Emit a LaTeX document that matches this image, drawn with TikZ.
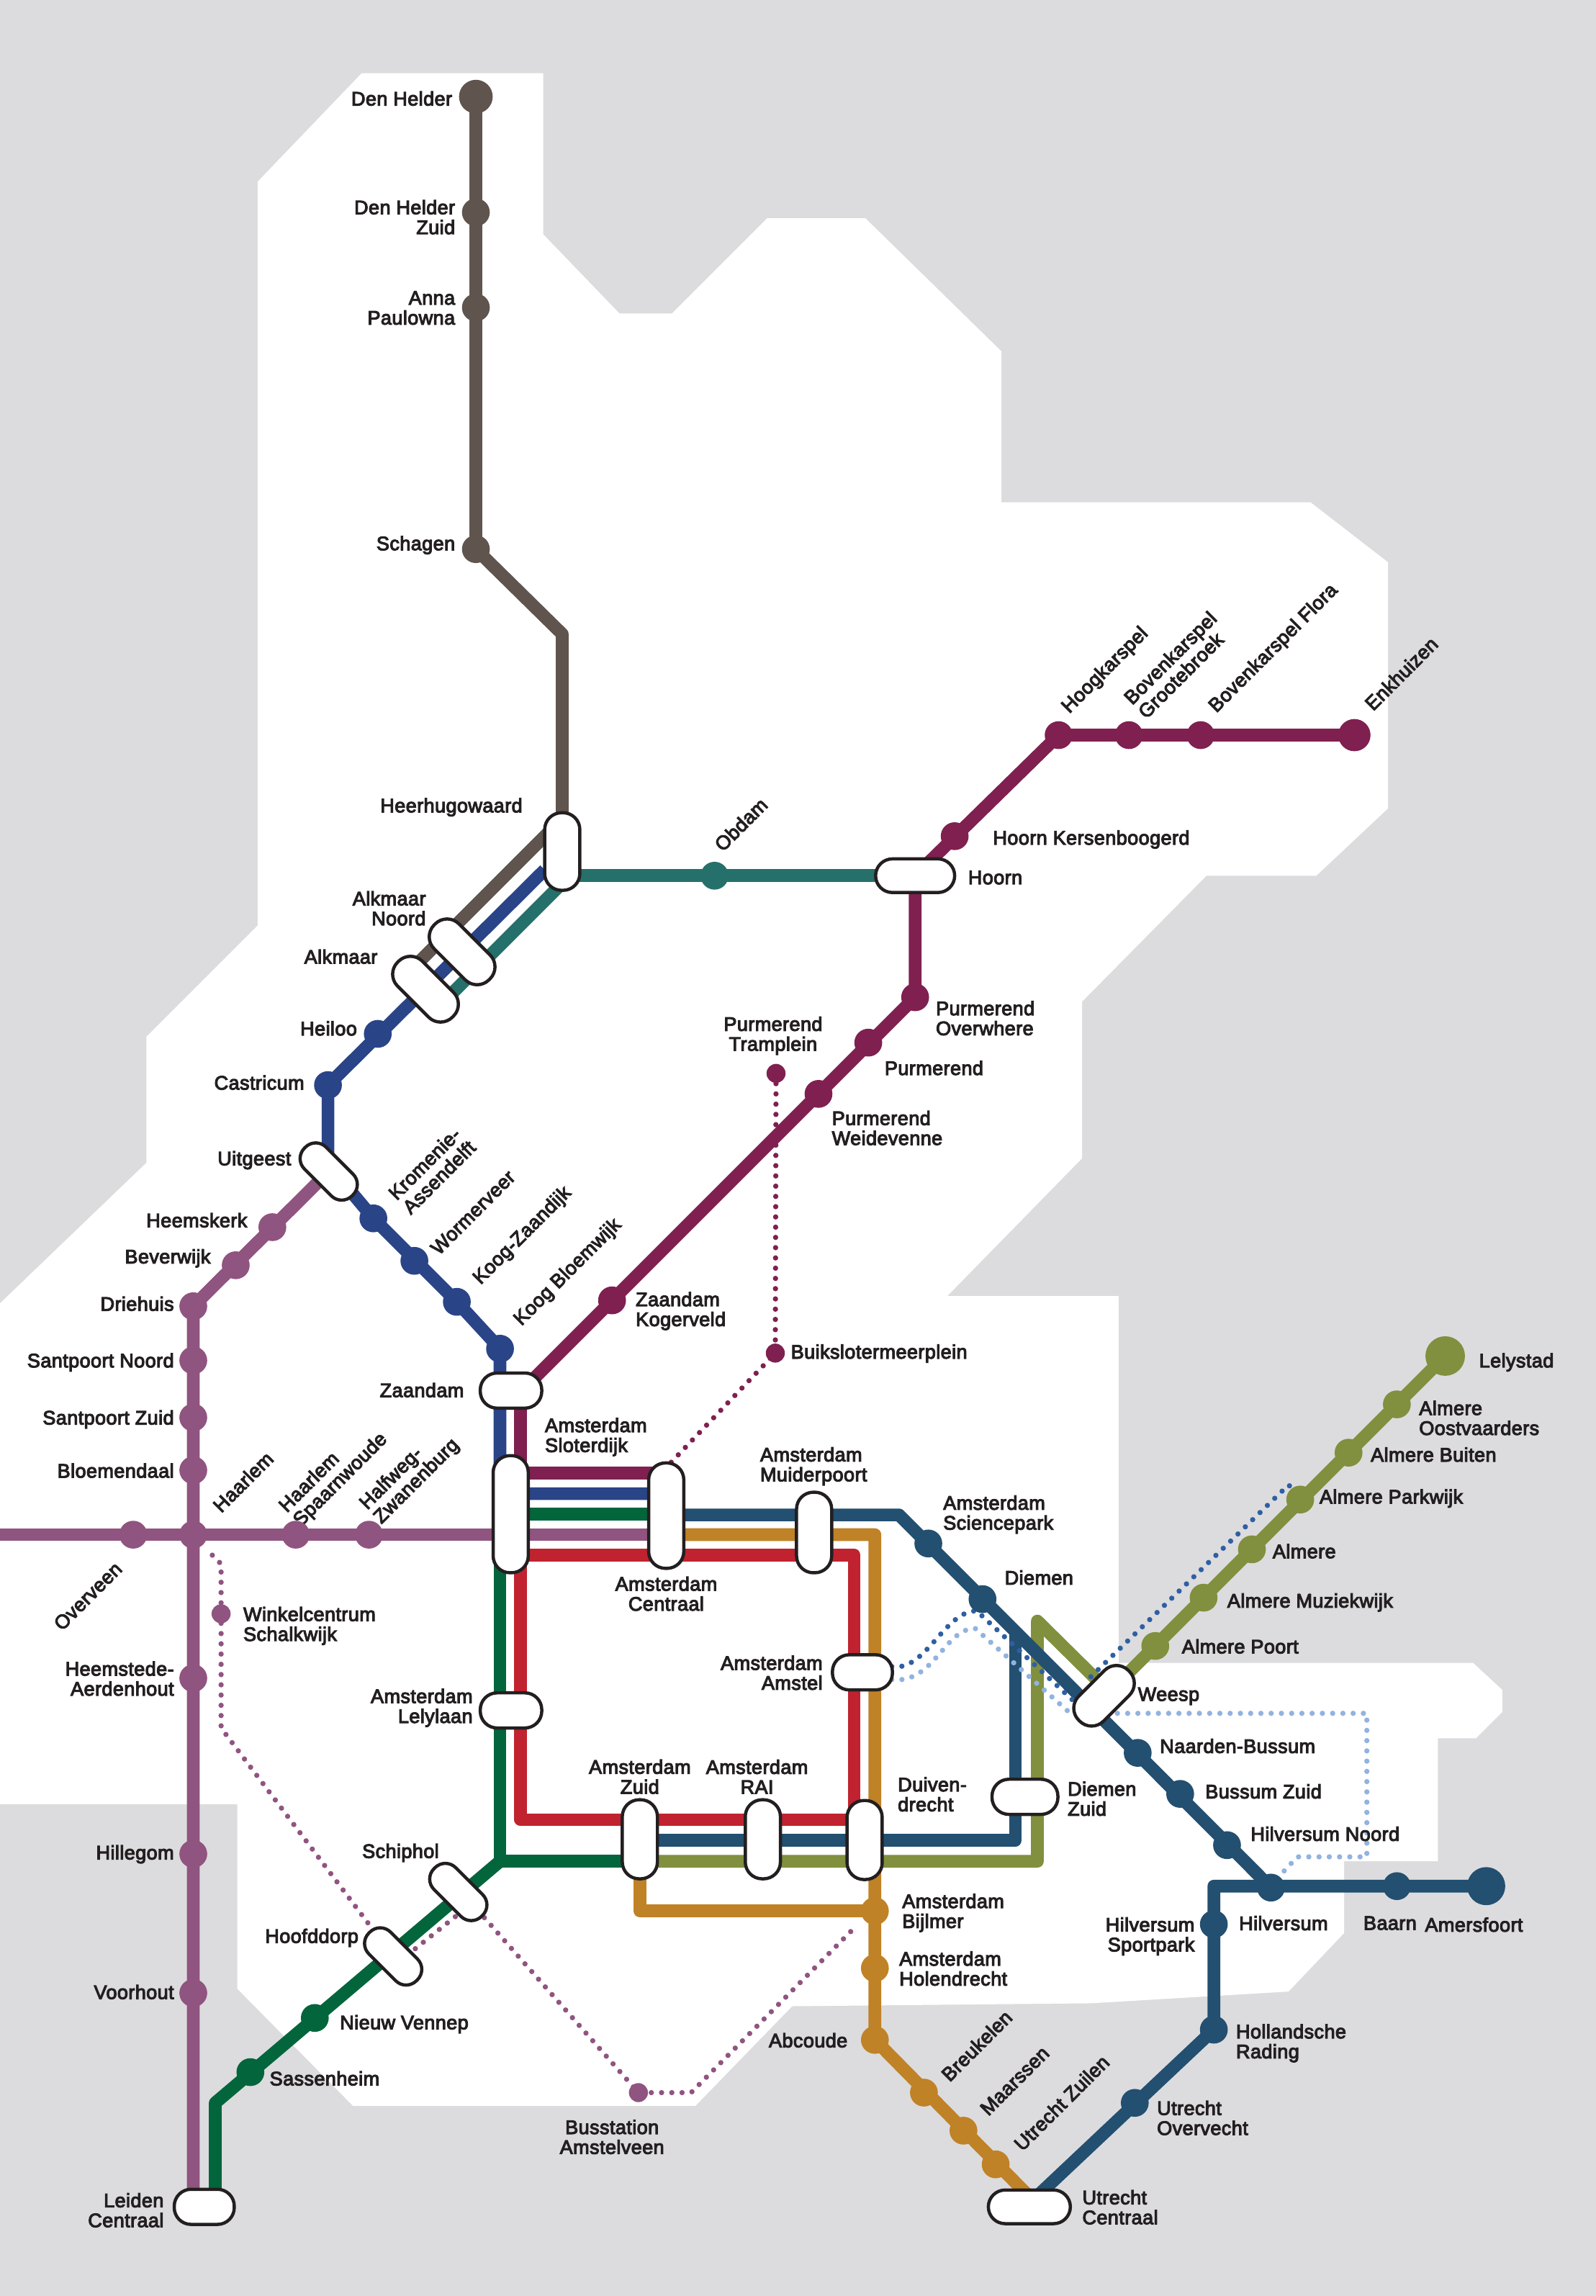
\documentclass[tikz,border=0pt]{standalone}
\usepackage{fontspec}
\setmainfont{Liberation Sans}[FakeBold=4,LetterSpace=1.5]
\definecolor{land}{HTML}{DCDCDE}
\definecolor{ink}{HTML}{231F20}
\definecolor{brownl}{HTML}{5F544E}
\definecolor{teall}{HTML}{25706A}
\definecolor{bluel}{HTML}{2A4488}
\definecolor{winel}{HTML}{7F2050}
\definecolor{violetl}{HTML}{905480}
\definecolor{greenl}{HTML}{03653C}
\definecolor{redl}{HTML}{C0232F}
\definecolor{ochrel}{HTML}{C08226}
\definecolor{petroll}{HTML}{234F70}
\definecolor{olivel}{HTML}{80903E}
\definecolor{dotblue}{HTML}{2F5FA3}
\definecolor{dotlight}{HTML}{92B3DF}
\pgfdeclarelayer{fg}
\pgfsetlayers{main,fg}
\tikzset{
 railline/.style={line width=8.7pt,line join=round,draw=#1},
 dotline/.style={line width=3.6pt,line cap=round,dash pattern=on 0pt off 7pt,draw=#1},
 stn/.style={circle,fill=#1,inner sep=0pt,minimum size=19pt},
 big/.style={circle,fill=#1,inner sep=0pt,minimum size=25pt},
 tiny/.style={circle,fill=#1,inner sep=0pt,minimum size=13pt},
 pillb/.style={draw=ink,fill=white,line width=2.2pt,inner sep=0pt,rounded corners=11.5pt},
 le/.style={anchor=west,align=left,text=ink,inner sep=0pt,font=\lblfont,yshift=-0.3pt},
 ri/.style={anchor=east,align=right,text=ink,inner sep=0pt,font=\lblfont,yshift=-0.3pt},
 ce/.style={anchor=center,align=center,text=ink,inner sep=0pt,font=\lblfont,yshift=-0.3pt},
 ro/.style={anchor=center,align=left,text=ink,inner sep=0pt,font=\lblfont,rotate=45},
}
\newcommand{\lblfont}{\fontsize{13.3}{13.6}\selectfont}
\begin{document}
\begin{tikzpicture}[x=1pt,y=-1pt]
\useasboundingbox (0,0) rectangle (1090,1567.9);
\fill[land] (0,0) rectangle (1090,1567.9);
\fill[white] (247,50) -- (371,50) -- (371,160) -- (423,214) -- (459,214) -- (524,149) -- (591,149) -- (684,240) -- (684,343) -- (895,343) -- (948,384) -- (948,552) -- (899,598) -- (824,598) -- (739,684) -- (739,791) -- (647,885) -- (764,885) -- (764,1135.5) -- (1006,1135.5) -- (1026,1154) -- (1026,1169) -- (1008,1187) -- (982,1187) -- (982,1271) -- (918,1271) -- (918,1320) -- (880,1360) -- (745,1368) -- (541,1370) -- (475,1438) -- (241,1438) -- (162,1358) -- (162,1232) -- (0,1232) -- (0,890) -- (100,794) -- (100,708) -- (176,632) -- (176,124) -- cycle;

\begin{pgfonlayer}{fg}
% interchange pills
\node[pillb,minimum width=24pt,minimum height=53pt] (heer) at (384,581.5) {};
\node[pillb,minimum width=53pt,minimum height=24pt,rotate=-45] (alkn) at (315.6,650) {};
\node[pillb,minimum width=53pt,minimum height=24pt,rotate=-45] (alk) at (290.6,675.5) {};
\node[pillb,minimum width=46pt,minimum height=21pt,rotate=-45,rounded corners=10pt] (uit) at (224.5,800) {};
\node[pillb,minimum width=54pt,minimum height=23pt] (hoorn) at (625,598) {};
\node[pillb,minimum width=42pt,minimum height=24pt] (zaan) at (349,949.6) {};
\node[pillb,minimum width=24pt,minimum height=80pt] (slot) at (348.8,1034) {};
\node[pillb,minimum width=24pt,minimum height=72pt] (cs) at (455,1035) {};
\node[pillb,minimum width=24pt,minimum height=55pt] (muid) at (556,1046.5) {};
\node[pillb,minimum width=42pt,minimum height=24pt] (lely) at (349,1168) {};
\node[pillb,minimum width=41pt,minimum height=24pt] (amst) at (589,1142) {};
\node[pillb,minimum width=24pt,minimum height=54pt] (zuid) at (437,1256) {};
\node[pillb,minimum width=24pt,minimum height=54pt] (rai) at (521,1256) {};
\node[pillb,minimum width=24pt,minimum height=54pt] (duiv) at (590.5,1256.5) {};
\node[pillb,minimum width=45pt,minimum height=24pt] (diez) at (700,1227) {};
\node[pillb,minimum width=48pt,minimum height=24pt,rotate=45] (wee) at (754,1158) {};
\node[pillb,minimum width=46pt,minimum height=21pt,rotate=-45,rounded corners=10pt] (schi) at (313,1292) {};
\node[pillb,minimum width=46pt,minimum height=21pt,rotate=-45,rounded corners=10pt] (hoof) at (268.5,1336) {};
\node[pillb,minimum width=41pt,minimum height=24pt] (leid) at (139.5,1507) {};
\node[pillb,minimum width=56pt,minimum height=23pt] (utr) at (703,1507) {};
% stations
\node[big=brownl,minimum size=23pt] (denh) at (325,66) {};
\node[stn=brownl] (denz) at (325,145) {};
\node[stn=brownl] (anna) at (325,210) {};
\node[stn=brownl] (schag) at (325,375) {};
\node[stn=teall] (obd) at (488,598) {};
\node[stn=winel] (kers) at (652,571) {};
\node[stn=winel] (hoog) at (723,502) {};
\node[stn=winel] (groo) at (771,502) {};
\node[stn=winel] (flor) at (820,502) {};
\node[big=winel,minimum size=22pt] (enk) at (925,502) {};
\node[stn=winel] (over) at (625,681) {};
\node[stn=winel] (purm) at (593,712) {};
\node[stn=winel] (weid) at (559,747) {};
\node[stn=winel] (koge) at (418,888) {};
\node[tiny=winel] (tram) at (530,733) {};
\node[tiny=winel] (buik) at (529.5,924) {};
\node[stn=bluel] (heil) at (258,706) {};
\node[stn=bluel] (cast) at (224,741) {};
\node[stn=bluel] (krom) at (255,832) {};
\node[stn=bluel] (worm) at (283,861) {};
\node[stn=bluel] (koog) at (312,889) {};
\node[stn=bluel] (bloe) at (341.5,921) {};
\node[stn=violetl] (heem) at (186,838) {};
\node[stn=violetl] (bev) at (161,864) {};
\node[stn=violetl] (drie) at (132,892) {};
\node[stn=violetl] (sano) at (132,929) {};
\node[stn=violetl] (sazu) at (132,968) {};
\node[stn=violetl] (blmd) at (132,1004) {};
\node[stn=violetl] (haar) at (132,1048) {};
\node[stn=violetl] (aerd) at (132,1146) {};
\node[stn=violetl] (hill) at (132,1266) {};
\node[stn=violetl] (voor) at (132,1361) {};
\node[stn=violetl] (ovrv) at (91,1048) {};
\node[stn=violetl] (spaa) at (202,1048) {};
\node[stn=violetl] (half) at (252,1048) {};
\node[tiny=violetl] (wink) at (151,1102) {};
\node[tiny=violetl] (buss) at (436,1429) {};
\node[stn=greenl] (sass) at (171,1415) {};
\node[stn=greenl] (nieu) at (215,1378) {};
\node[stn=petroll] (scie) at (634,1054) {};
\node[stn=petroll] (diem) at (671,1092) {};
\node[stn=petroll] (naar) at (777,1197) {};
\node[stn=petroll] (buzu) at (806,1225) {};
\node[stn=petroll] (hino) at (838,1260) {};
\node[stn=petroll] (hilv) at (868,1289) {};
\node[stn=petroll] (baar) at (954,1288) {};
\node[big=petroll,minimum size=26pt] (amer) at (1015,1288) {};
\node[stn=petroll] (spor) at (829,1314) {};
\node[stn=petroll] (radi) at (829,1386) {};
\node[stn=petroll] (ovec) at (775,1436) {};
\node[stn=ochrel] (bijl) at (597.5,1305) {};
\node[stn=ochrel] (hole) at (597.5,1344) {};
\node[stn=ochrel] (abco) at (597.5,1393) {};
\node[stn=ochrel] (breu) at (631,1429) {};
\node[stn=ochrel] (maar) at (658,1455) {};
\node[stn=ochrel] (zuil) at (680,1478) {};
\node[big=olivel,minimum size=27pt] (lelys) at (987,926) {};
\node[stn=olivel] (oost) at (954,959) {};
\node[stn=olivel] (buit) at (921,992) {};
\node[stn=olivel] (park) at (888,1024) {};
\node[stn=olivel] (alme) at (855,1058) {};
\node[stn=olivel] (muzi) at (822,1091) {};
\node[stn=olivel] (poor) at (789,1124) {};
\end{pgfonlayer}

% way points
\coordinate (br1) at (384,433);
\coordinate (br2) at (378,565);
\coordinate (br3) at (280,663);
\coordinate (te1) at (387,600);
\coordinate (te2) at (301,686);
\coordinate (te3) at (384,598);
\coordinate (bl1) at (372,594);
\coordinate (bl2) at (224,795);
\coordinate (bl3) at (341.5,1020);
\coordinate (bl4) at (455,1020);
\coordinate (wi1) at (349,957);
\coordinate (wi2) at (355.5,950);
\coordinate (wi3) at (355.5,1006);
\coordinate (wi4) at (455,1006);
\coordinate (gr1) at (455,1034);
\coordinate (gr2) at (341.5,1034);
\coordinate (gr3) at (341.5,1271);
\coordinate (gr4) at (437,1271);
\coordinate (gr5) at (147,1436);
\coordinate (gr6) at (147,1500);
\coordinate (vi0) at (0,1048);
\coordinate (vi1) at (455,1048);
\coordinate (vi2) at (132,1500);
\coordinate (re1) at (355.5,1062);
\coordinate (re2) at (583.4,1062);
\coordinate (re3) at (583.4,1242.6);
\coordinate (re4) at (355.5,1242.6);
\coordinate (oc1) at (455,1048);
\coordinate (oc2) at (597.5,1048);
\coordinate (oc3) at (703,1500);
\coordinate (oc4) at (437,1256);
\coordinate (oc5) at (437,1305);
\coordinate (pe1) at (455,1034.5);
\coordinate (pe2) at (614,1034.5);
\coordinate (pe3) at (437,1256.6);
\coordinate (pe4) at (693.5,1256.6);
\coordinate (pe5) at (693.5,1114);
\coordinate (pe6) at (829,1288);
\coordinate (pe7) at (708,1500);
\coordinate (ol1) at (437,1271);
\coordinate (ol2) at (708.5,1271);
\coordinate (ol3) at (708.5,1107);
\coordinate (ol4) at (748,1146);
\coordinate (ol5) at (764,1149);

% solid lines
\draw[railline=brownl] (denh.center) -- (schag.center) -- (br1) -- (heer.center);
\draw[railline=brownl] (br2) -- (br3);
\draw[railline=teall] (te1) -- (te2);
\draw[railline=teall] (te3) -- (hoorn.center);
\draw[railline=violetl] (vi0) -- (vi1);
\draw[railline=violetl] (uit.center) -- (drie.center) -- (vi2);
\draw[railline=winel] (enk.center) -- (hoog.center) -- (hoorn.center) -- (over.center) -- (wi1);
\draw[railline=winel] (wi2) -- (wi3) -- (wi4);
\draw[railline=bluel] (bl1) -- (cast.center) -- (bl2) -- (krom.center) -- (koog.center) -- (bloe.center) -- (bl3) -- (bl4);
\draw[railline=greenl] (gr1) -- (gr2) -- (gr3) -- (gr4);
\draw[railline=greenl] (gr3) -- (gr5) -- (gr6);
\draw[railline=redl] (re1) -- (re2) -- (re3) -- (re4) -- cycle;
\draw[railline=ochrel] (oc1) -- (oc2) -- (abco.center) -- (oc3);
\draw[railline=ochrel] (oc4) -- (oc5) -- (bijl.center);
\draw[railline=olivel] (lelys.center) -- (ol5);
\draw[railline=olivel] (ol1) -- (ol2) -- (ol3) -- (ol4);
\draw[railline=petroll] (pe1) -- (pe2) -- (hilv.center);
\draw[railline=petroll] (pe3) -- (pe4) -- (pe5);
\draw[railline=petroll] (amer.center) -- (pe6) -- (radi.center) -- (pe7);

% dotted lines
\coordinate (wd1) at (457,1000);
\draw[dotline=winel] (tram.center) -- (buik.center) -- (wd1);
\coordinate (vd1) at (145,1062);
\coordinate (vd2) at (151,1068);
\coordinate (vd3) at (151,1180);
\coordinate (vd4) at (272,1340);
\coordinate (vd5) at (312,1308);
\coordinate (vd6) at (318,1295);
\coordinate (vd7) at (472,1429);
\coordinate (vd8) at (582,1318);
\draw[dotline=violetl] (vd1) -- (vd2) -- (vd3) -- (hoof.center) -- (vd4) -- (vd5) -- (vd6) -- (buss.center) -- (vd7) -- (vd8);
\coordinate (db0) at (609,1138);
\coordinate (db1) at (667,1100);
\coordinate (db2) at (738,1166);
\coordinate (db3) at (880,1014);
\coordinate (db4) at (884,1018);
\coordinate (db5) at (745,1145);
\draw[dotline=dotblue] (db0) .. controls (632,1142) and (645,1100) .. (db1) -- (db2);
\draw[dotline=dotblue] (db5) -- (db3) -- (db4);
\coordinate (dl0) at (609,1147);
\coordinate (dl1) at (666,1112);
\coordinate (dl2) at (731,1170);
\coordinate (dl3) at (933.5,1170);
\coordinate (dl4) at (933.5,1268);
\coordinate (dl5) at (886,1268);
\coordinate (dl6) at (872,1283);
\draw[dotline=dotlight] (dl0) .. controls (638,1150) and (645,1112) .. (dl1) -- (dl2) -- (dl3) -- (dl4) -- (dl5) -- (dl6);

% labels
\node[ri] (tdenh) at (309,67) {Den Helder};
\node[ri] (tdenz) at (311,148) {Den Helder\\Zuid};
\node[ri] (tanna) at (311,210) {Anna\\Paulowna};
\node[ri] (tschag) at (311,372) {Schagen};
\node[ri] (theer) at (357,551) {Heerhugowaard};
\node[ro] (tobd) at (506,563) {Obdam};
\node[ri] (talkn) at (291,620) {Alkmaar\\Noord};
\node[ri] (talk) at (258,653) {Alkmaar};
\node[ri] (theil) at (244,702) {Heiloo};
\node[ri] (tcast) at (208,739) {Castricum};
\node[ri] (tuit) at (199,792) {Uitgeest};
\node[ro] (tkrom) at (295,799) {Kromenie-\\Assendelft};
\node[ro] (tworm) at (323,828) {Wormerveer};
\node[ro] (tkoog) at (357,844) {Koog-Zaandijk};
\node[ro] (tbloe) at (388,869) {Koog Bloemwijk};
\node[ri] (theem) at (169,833) {Heemskerk};
\node[ri] (tbev) at (144,859) {Beverwijk};
\node[ri] (tdrie) at (119,890) {Driehuis};
\node[ri] (tsano) at (119,930) {Santpoort Noord};
\node[ri] (tsazu) at (119,969) {Santpoort Zuid};
\node[ri] (tblmd) at (119,1004) {Bloemendaal};
\node[ri] (tzaan) at (317,949) {Zaandam};
\node[ro] (thaar) at (166,1012) {Haarlem};
\node[ro] (tspaa) at (228,1006) {Haarlem\\Spaarnwoude};
\node[ro] (thalf) at (280,1007) {Halfweg-\\Zwanenburg};
\node[ro] (tovrv) at (60,1090) {Overveen};
\node[le] (twink) at (166,1110) {Winkelcentrum\\Schalkwijk};
\node[ri] (taerd) at (119,1146) {Heemstede-\\Aerdenhout};
\node[le] (tslot) at (372,981) {Amsterdam\\Sloterdijk};
\node[le] (tmuid) at (519,1001) {Amsterdam\\Muiderpoort};
\node[le] (tscie) at (644,1034) {Amsterdam\\Sciencepark};
\node[le] (tdiem) at (686,1077) {Diemen};
\node[ce] (tcs) at (455,1088) {Amsterdam\\Centraal};
\node[ri] (tamst) at (562,1142) {Amsterdam\\Amstel};
\node[ri] (tlely) at (323,1166) {Amsterdam\\Lelylaan};
\node[ce] (tzuid) at (437,1213) {Amsterdam\\Zuid};
\node[ce] (trai) at (517,1213) {Amsterdam\\RAI};
\node[le] (tduiv) at (613,1225) {Duiven-\\drecht};
\node[le] (tdiez) at (729,1228) {Diemen\\Zuid};
\node[le] (twee) at (777,1158) {Weesp};
\node[le] (tnaar) at (792,1192) {Naarden-Bussum};
\node[le] (tbuzu) at (823,1223) {Bussum Zuid};
\node[le] (thino) at (854,1252) {Hilversum Noord};
\node[le] (thilv) at (846,1313) {Hilversum};
\node[le] (tbaar) at (931,1313) {Baarn};
\node[le] (tamer) at (973,1314) {Amersfoort};
\node[ri] (tspor) at (816,1322) {Hilversum\\Sportpark};
\node[le] (tradi) at (844,1395) {Hollandsche\\Rading};
\node[le] (tovec) at (790,1446) {Utrecht\\Overvecht};
\node[le] (tutr) at (739,1507) {Utrecht\\Centraal};
\node[ro] (tzuil) at (725,1436) {Utrecht Zuilen};
\node[ro] (tmaar) at (693,1421) {Maarssen};
\node[ro] (tbreu) at (667,1397) {Breukelen};
\node[ri] (tabco) at (579,1393) {Abcoude};
\node[le] (tbijl) at (616,1306) {Amsterdam\\Bijlmer};
\node[le] (thole) at (614,1344) {Amsterdam\\Holendrecht};
\node[ri] (tschi) at (300,1265) {Schiphol};
\node[ri] (thoof) at (245,1323) {Hoofddorp};
\node[le] (tnieu) at (232,1382) {Nieuw Vennep};
\node[le] (tsass) at (184,1419) {Sassenheim};
\node[ri] (tleid) at (112,1509) {Leiden\\Centraal};
\node[ri] (thill) at (119,1266) {Hillegom};
\node[ri] (tvoor) at (119,1360) {Voorhout};
\node[ce] (tbuss) at (418,1459) {Busstation\\Amstelveen};
\node[le] (tbuik) at (540,924) {Buikslotermeerplein};
\node[ce] (ttram) at (528,707) {Purmerend\\Tramplein};
\node[le] (tover) at (639,695) {Purmerend\\Overwhere};
\node[le] (tpurm) at (604,729) {Purmerend};
\node[le] (tweid) at (568,770) {Purmerend\\Weidevenne};
\node[le] (tkoge) at (434,895) {Zaandam\\Kogerveld};
\node[le] (tkers) at (678,573) {Hoorn Kersenboogerd};
\node[le] (thoorn) at (661,599) {Hoorn};
\node[ro] (thoog) at (755,458) {Hoogkarspel};
\node[ro] (tgroo) at (804,454) {Bovenkarspel\\Grootebroek};
\node[ro] (tflor) at (870,443) {Bovenkarspel Flora};
\node[ro] (tenk) at (957,460) {Enkhuizen};
\node[le] (tlelys) at (1010,930) {Lelystad};
\node[le] (toost) at (969,968) {Almere\\Oostvaarders};
\node[le] (tbuit) at (936,993) {Almere Buiten};
\node[le] (tpark) at (901,1023) {Almere Parkwijk};
\node[le] (talme) at (869,1059) {Almere};
\node[le] (tmuzi) at (838,1094) {Almere Muziekwijk};
\node[le] (tpoor) at (807,1124) {Almere Poort};
\end{tikzpicture}
\end{document}
